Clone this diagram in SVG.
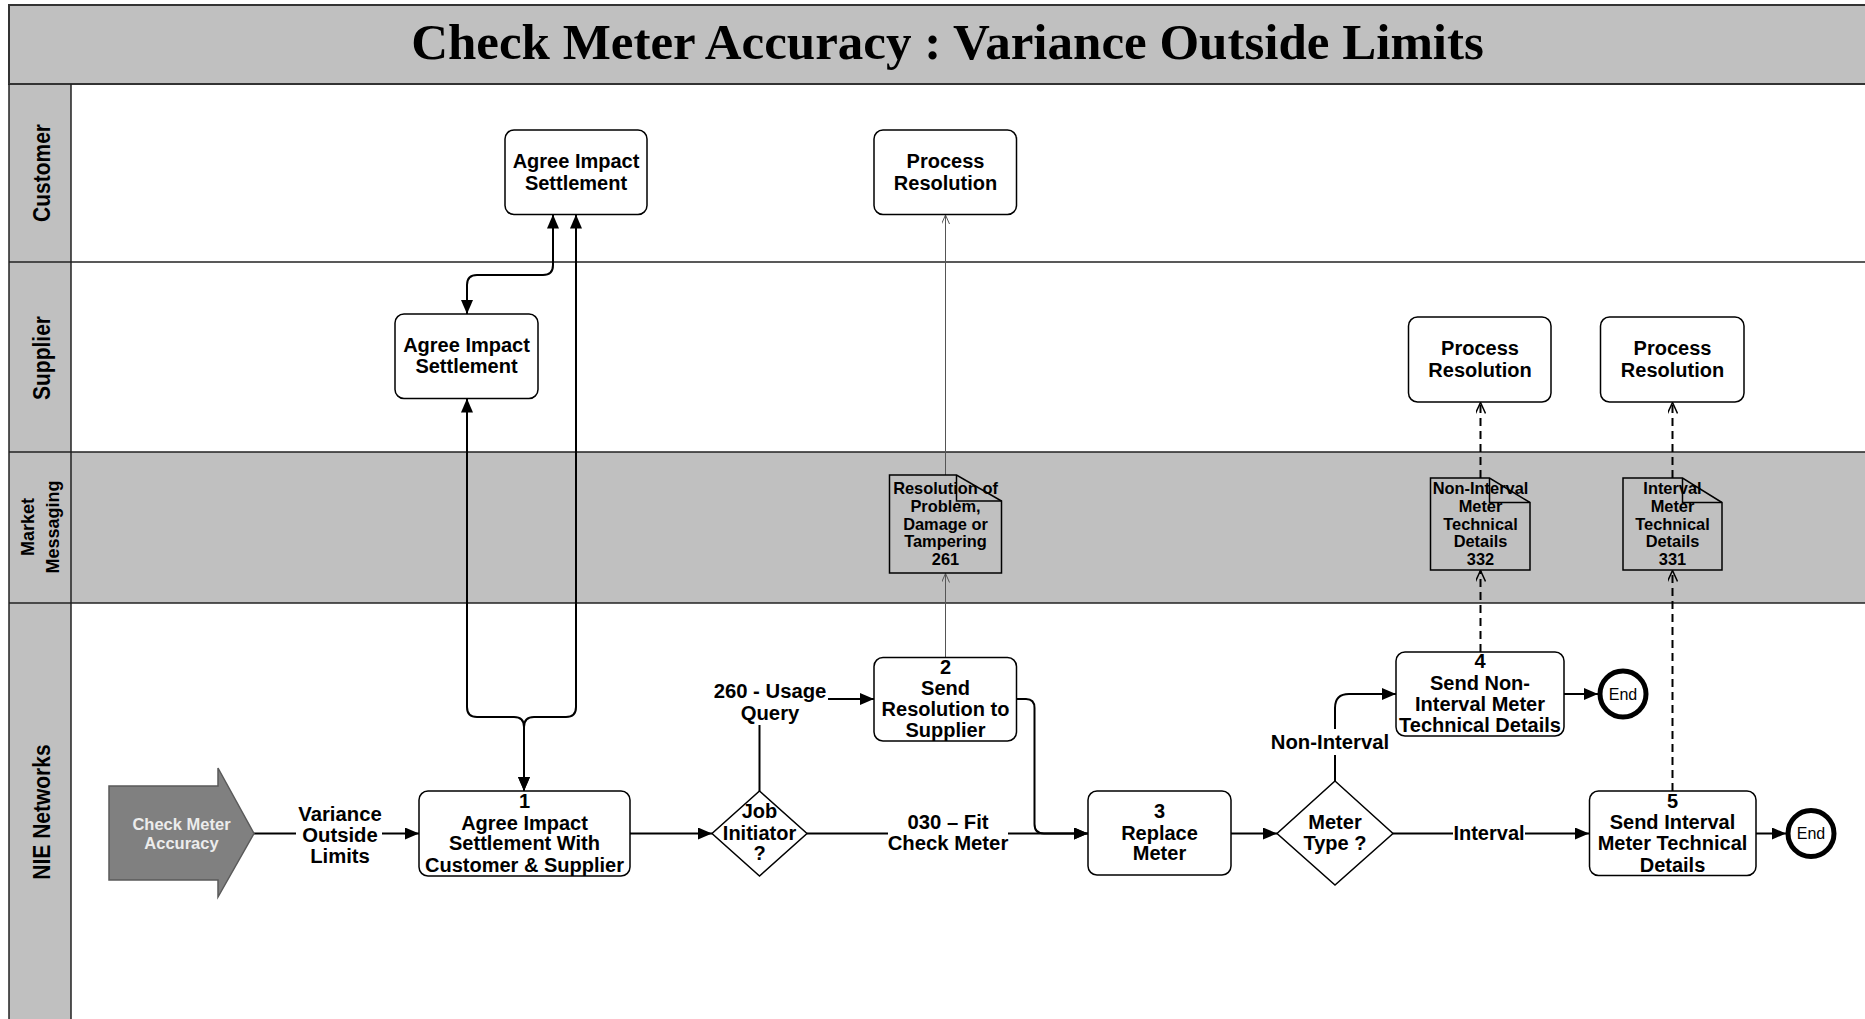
<svg xmlns="http://www.w3.org/2000/svg" width="1865" height="1019" viewBox="0 0 1865 1019">
<defs>
<style>
.t{font-family:"Liberation Sans",Arial,sans-serif;font-weight:bold;font-size:20px;text-anchor:middle;fill:#000}
.e{font-size:20.3px}
.d{font-size:16.4px}
.ln{font-size:21px}
.end{font-family:"Liberation Sans",Arial,sans-serif;font-weight:normal;font-size:16px;text-anchor:middle;fill:#000}
.box{fill:#fff;stroke:#000;stroke-width:1.5}
.doc{fill:#c0c0c0;stroke:#000;stroke-width:1.5}
.c{fill:none;stroke:#000;stroke-width:2}
.dash{fill:none;stroke:#000;stroke-width:2;stroke-dasharray:8 5}
.thin{fill:none;stroke:#555;stroke-width:1}
.lane{stroke:#222;stroke-width:1.5}
</style>
<marker id="ah" markerWidth="14" markerHeight="12" refX="14" refY="6" orient="auto-start-reverse" markerUnits="userSpaceOnUse"><path d="M0,0 L14,6 L0,12 z" fill="#000"/></marker>
<marker id="oa" markerWidth="12" markerHeight="10" refX="11" refY="5" orient="auto" markerUnits="userSpaceOnUse"><path d="M0,0 L11,5 L0,10" fill="none" stroke="#000" stroke-width="1.5"/></marker>
<marker id="ot" markerWidth="10" markerHeight="8" refX="9" refY="4" orient="auto" markerUnits="userSpaceOnUse"><path d="M0,0 L9,4 L0,8" fill="none" stroke="#555" stroke-width="1"/></marker>
</defs>

<g id="lanes">
<rect x="9" y="84" width="1860" height="940" fill="#fff"/>
<rect x="9" y="452" width="1860" height="151" fill="#c0c0c0"/>
<rect x="9" y="84" width="62" height="940" fill="#c0c0c0"/>
<rect x="9" y="5" width="1860" height="79" fill="#c0c0c0" stroke="#333" stroke-width="2"/>
<line class="lane" x1="9" y1="262" x2="1865" y2="262"/>
<line class="lane" x1="9" y1="452" x2="1865" y2="452"/>
<line class="lane" x1="9" y1="603" x2="1865" y2="603"/>
<line class="lane" x1="71" y1="84" x2="71" y2="1019"/>
<line class="lane" x1="9" y1="84" x2="9" y2="1019"/>
<text x="947.5" y="59" style="font-family:'Liberation Serif','Times New Roman',serif;font-weight:bold;font-size:51px;text-anchor:middle">Check Meter Accuracy : Variance Outside Limits</text>
<text class="t ln" transform="translate(50,173) rotate(-90) scale(1,1.15)">Customer</text>
<text class="t ln" transform="translate(50,358) rotate(-90) scale(1,1.15)">Supplier</text>
<text class="t" style="font-size:18px" transform="translate(34,527) rotate(-90)">Market</text>
<text class="t" style="font-size:18px" transform="translate(59,527) rotate(-90)">Messaging</text>
<text class="t ln" transform="translate(50,812) rotate(-90) scale(1,1.15)">NIE Networks</text>
</g>

<g id="connectors">
<path class="c" d="M254,833.5 H296"/>
<path class="c" d="M382,833.5 H419" marker-end="url(#ah)"/>
<path class="c" d="M630,833.5 H712" marker-end="url(#ah)"/>
<path class="c" d="M759.5,791 V725"/>
<path class="c" d="M828,699 H874" marker-end="url(#ah)"/>
<path class="c" d="M807,833.5 H888"/>
<path class="c" d="M1008,833.5 H1088" marker-end="url(#ah)"/>
<path class="c" d="M1017,699 H1026 Q1034.5,699 1034.5,708 V824 Q1034.5,833.5 1044,833.5 H1088" marker-end="url(#ah)"/>
<path class="c" d="M1231,833.5 H1277" marker-end="url(#ah)"/>
<path class="c" d="M1335,781 V755"/>
<path class="c" d="M1335,729 V708 Q1335,694 1349,694 H1396" marker-end="url(#ah)"/>
<path class="c" d="M1393,833.5 H1453"/>
<path class="c" d="M1525,833.5 H1589" marker-end="url(#ah)"/>
<path class="c" d="M1564,694 H1598" marker-end="url(#ah)"/>
<path class="c" d="M1756,833.5 H1786" marker-end="url(#ah)"/>
<path class="c" d="M524,791 V727 Q524,717 514,717 H477 Q467,717 467,707 V398.5" marker-start="url(#ah)" marker-end="url(#ah)"/>
<path class="c" d="M524,791 V727 Q524,717 534,717 H566 Q576,717 576,707 V214.5" marker-start="url(#ah)" marker-end="url(#ah)"/>
<path class="c" d="M467,314 V285 Q467,275 477,275 H543 Q553,275 553,265 V214.5" marker-start="url(#ah)" marker-end="url(#ah)"/>
<path class="thin" d="M945.5,657.5 V573.5" marker-end="url(#ot)"/>
<path class="thin" d="M945.5,475 V215" marker-end="url(#ot)"/>
<path class="dash" d="M1480.5,652 V570.5" marker-end="url(#oa)"/>
<path class="dash" d="M1480.5,478 V402.5" marker-end="url(#oa)"/>
<path class="dash" d="M1672.5,791 V570.5" marker-end="url(#oa)"/>
<path class="dash" d="M1672.5,478 V402.5" marker-end="url(#oa)"/>
<text class="t e" x="340" y="821">Variance</text>
<text class="t e" x="340" y="842">Outside</text>
<text class="t e" x="340" y="863">Limits</text>
<text class="t e" x="770" y="698">260 - Usage</text>
<text class="t e" x="770" y="720">Query</text>
<text class="t e" x="948" y="829">030 – Fit</text>
<text class="t e" x="948" y="850">Check Meter</text>
<text class="t e" x="1330" y="749">Non-Interval</text>
<text class="t" x="1489" y="840">Interval</text>
</g>

<g id="start">
<polygon points="109,786 218,786 218,768 254,833.5 218,897 218,880 109,880" fill="#808080" stroke="#5a5a5a" stroke-width="1.5"/>
<text class="t" style="font-size:16.5px;fill:#ececec" x="181.5" y="830">Check Meter</text>
<text class="t" style="font-size:16.5px;fill:#ececec" x="181.5" y="848.5">Accuracy</text>
</g>

<g id="cust-agree">
<rect class="box" x="505" y="130" width="142" height="84.5" rx="9"/>
<text class="t" x="576" y="168">Agree Impact</text>
<text class="t" x="576" y="189.5">Settlement</text>
</g>
<g id="cust-process">
<rect class="box" x="874" y="130" width="142.5" height="84.5" rx="9"/>
<text class="t" x="945.5" y="168">Process</text>
<text class="t" x="945.5" y="189.5">Resolution</text>
</g>
<g id="supp-agree">
<rect class="box" x="395" y="314" width="143" height="84.5" rx="9"/>
<text class="t" x="466.5" y="352">Agree Impact</text>
<text class="t" x="466.5" y="373">Settlement</text>
</g>
<g id="supp-process-1">
<rect class="box" x="1408.5" y="317" width="142.5" height="85" rx="9"/>
<text class="t" x="1480" y="355">Process</text>
<text class="t" x="1480" y="376.5">Resolution</text>
</g>
<g id="supp-process-2">
<rect class="box" x="1600.5" y="317" width="143.5" height="85" rx="9"/>
<text class="t" x="1672.5" y="355">Process</text>
<text class="t" x="1672.5" y="376.5">Resolution</text>
</g>

<g id="doc-261">
<path class="doc" d="M889.5,475 H956.5 L1001.5,501 V573 H889.5 Z"/>
<path d="M956.5,475 V501 H1001.5" fill="none" stroke="#000" stroke-width="1.5"/>
<text class="t d" x="945.5" y="493.5">Resolution of</text>
<text class="t d" x="945.5" y="511.5">Problem,</text>
<text class="t d" x="945.5" y="529.5">Damage or</text>
<text class="t d" x="945.5" y="546.5">Tampering</text>
<text class="t d" x="945.5" y="564.5">261</text>
</g>
<g id="doc-332">
<path class="doc" d="M1430.5,478 H1489.5 L1530,502.5 V570 H1430.5 Z"/>
<path d="M1489.5,478 V502.5 H1530" fill="none" stroke="#000" stroke-width="1.5"/>
<text class="t d" x="1480.5" y="494">Non-Interval</text>
<text class="t d" x="1480.5" y="512">Meter</text>
<text class="t d" x="1480.5" y="530">Technical</text>
<text class="t d" x="1480.5" y="546.5">Details</text>
<text class="t d" x="1480.5" y="564.5">332</text>
</g>
<g id="doc-331">
<path class="doc" d="M1623,478 H1682.5 L1722,502.5 V570 H1623 Z"/>
<path d="M1682.5,478 V502.5 H1722" fill="none" stroke="#000" stroke-width="1.5"/>
<text class="t d" x="1672.5" y="494">Interval</text>
<text class="t d" x="1672.5" y="512">Meter</text>
<text class="t d" x="1672.5" y="530">Technical</text>
<text class="t d" x="1672.5" y="546.5">Details</text>
<text class="t d" x="1672.5" y="564.5">331</text>
</g>

<g id="step-1">
<rect class="box" x="419" y="791" width="211" height="85" rx="9"/>
<text class="t" x="524.5" y="807.5">1</text>
<text class="t" x="524.5" y="829.5">Agree Impact</text>
<text class="t" x="524.5" y="850">Settlement With</text>
<text class="t" x="524.5" y="871.5">Customer &amp; Supplier</text>
</g>
<g id="job-initiator">
<polygon class="box" points="759.5,791 807,833.5 759.5,876 712,833.5"/>
<text class="t" x="759.5" y="817.5">Job</text>
<text class="t" x="759.5" y="839.5">Initiator</text>
<text class="t" x="759.5" y="859.5">?</text>
</g>
<g id="step-2">
<rect class="box" x="874" y="657.5" width="142.5" height="83.5" rx="9"/>
<text class="t" x="945.5" y="673.5">2</text>
<text class="t" x="945.5" y="694.5">Send</text>
<text class="t" x="945.5" y="715.5">Resolution to</text>
<text class="t" x="945.5" y="736.5">Supplier</text>
</g>
<g id="step-3">
<rect class="box" x="1088" y="791" width="143" height="84" rx="9"/>
<text class="t" x="1159.5" y="817.5">3</text>
<text class="t" x="1159.5" y="839.5">Replace</text>
<text class="t" x="1159.5" y="859.5">Meter</text>
</g>
<g id="meter-type">
<polygon class="box" points="1335,781 1393,833.5 1335,885 1277,833.5"/>
<text class="t" x="1335" y="828.5">Meter</text>
<text class="t" x="1335" y="849.5">Type ?</text>
</g>
<g id="step-4">
<rect class="box" x="1396" y="652" width="168" height="84" rx="9"/>
<text class="t" x="1480" y="668">4</text>
<text class="t" x="1480" y="689.5">Send Non-</text>
<text class="t" x="1480" y="710.5">Interval Meter</text>
<text class="t" x="1480" y="731.5">Technical Details</text>
</g>
<g id="step-5">
<rect class="box" x="1589.5" y="791" width="166.5" height="84.5" rx="9"/>
<text class="t" x="1672.5" y="807.5">5</text>
<text class="t" x="1672.5" y="828.5">Send Interval</text>
<text class="t" x="1672.5" y="849.5">Meter Technical</text>
<text class="t" x="1672.5" y="871.5">Details</text>
</g>
<g id="end-1">
<circle cx="1623" cy="694" r="23" fill="#fff" stroke="#000" stroke-width="5"/>
<text class="end" x="1623" y="699.5">End</text>
</g>
<g id="end-2">
<circle cx="1811" cy="833.5" r="23" fill="#fff" stroke="#000" stroke-width="5"/>
<text class="end" x="1811" y="839">End</text>
</g>
</svg>
